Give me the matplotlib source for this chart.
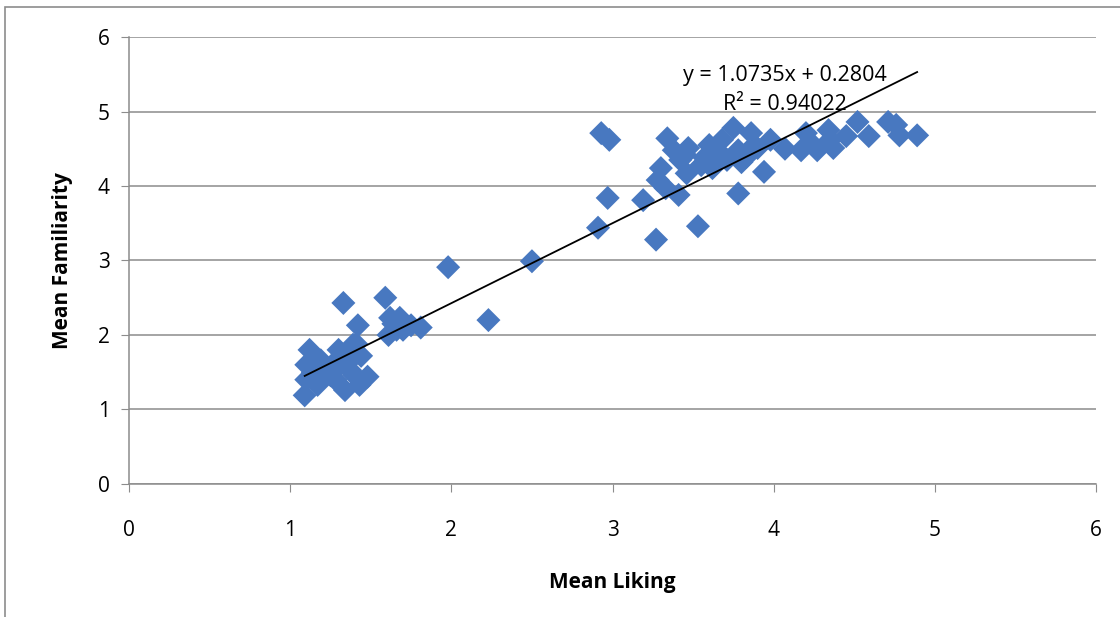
import matplotlib.pyplot as plt
from matplotlib.patches import Rectangle

plt.rcParams['font.family'] = ['Open Sans', 'DejaVu Sans']

# mean liking / mean familiarity per item
liking = [1.09, 1.10, 1.10, 1.12, 1.14, 1.17, 1.19, 1.22, 1.25, 1.28,
          1.31, 1.33, 1.34, 1.30, 1.36, 1.39, 1.40, 1.37, 1.43, 1.42,
          1.48, 1.34, 1.39, 1.44, 1.41, 1.20, 1.15, 1.27,
          1.59, 1.62, 1.61, 1.66, 1.68, 1.70, 1.64, 1.75, 1.81, 1.98,
          2.23, 2.50,
          2.91, 2.93, 2.98, 2.97, 3.19, 3.27, 3.28, 3.30, 3.33, 3.34,
          3.38, 3.41, 3.42, 3.45, 3.47, 3.46, 3.53, 3.55, 3.57, 3.60,
          3.62, 3.65, 3.68, 3.71, 3.75, 3.78, 3.80, 3.78, 3.83, 3.86,
          3.86, 3.90, 3.94, 3.98, 4.07, 4.17, 4.20, 4.25, 4.27, 4.34,
          4.35, 4.37, 4.45, 4.52, 4.59, 4.71, 4.76, 4.78, 4.89]
familiarity = [1.19, 1.40, 1.60, 1.80, 1.50, 1.33, 1.66, 1.53, 1.46, 1.40,
               1.60, 2.43, 1.26, 1.80, 1.73, 1.87, 1.46, 1.53, 1.33, 2.13,
               1.44, 1.66, 1.70, 1.72, 1.88, 1.55, 1.70, 1.62,
               2.50, 2.23, 2.00, 2.07, 2.23, 2.07, 2.15, 2.13, 2.10, 2.91,
               2.20, 2.99,
               3.44, 4.71, 4.62, 3.84, 3.81, 3.28, 4.08, 4.24, 3.97, 4.64,
               4.48, 3.88, 4.35, 4.42, 4.51, 4.17, 3.46, 4.28, 4.38, 4.55,
               4.24, 4.48, 4.62, 4.35, 4.78, 4.48, 4.32, 3.90, 4.39, 4.51,
               4.71, 4.51, 4.19, 4.62, 4.50, 4.48, 4.71, 4.54, 4.48, 4.75,
               4.62, 4.51, 4.67, 4.86, 4.67, 4.86, 4.82, 4.68, 4.68]

slope = 1.0735
intercept = 0.2804
r2 = 0.94022

fig = plt.figure(figsize=(11.2, 6.17), dpi=100)
ax = fig.add_axes([0.1152, 0.2156, 0.8634, 0.7244])

# outer chart frame
fig.patches.append(Rectangle((5 / 1120, -0.1), 1.2, 1 - 7 / 617 + 0.1,
                             transform=fig.transFigure, fill=False,
                             edgecolor='#8c8c8c', lw=1.2))

ax.scatter(liking, familiarity, marker='D', s=150, color='#4878c0',
           edgecolors='none', zorder=3)

x0, x1 = min(liking), max(liking)
ax.plot([x0, x1], [slope * x0 + intercept, slope * x1 + intercept],
        color='black', lw=1.3, zorder=4)

ax.text(4.07, 5.49, 'y = %.4fx + %.4f' % (slope, intercept),
        ha='center', va='center', fontsize=15.5, zorder=5)
ax.text(4.07, 5.10, 'R² = %.5f' % r2,
        ha='center', va='center', fontsize=15.5, zorder=5)

ax.set_xlim(0, 6)
ax.set_ylim(0, 6)
ax.set_xticks(range(7))
ax.set_yticks(range(7))
ax.grid(axis='y', color='#8c8c8c', lw=1.1)
ax.set_axisbelow(True)
for s in ['top', 'right']:
    ax.spines[s].set_visible(False)
for s in ['left', 'bottom']:
    ax.spines[s].set_color('#8c8c8c')
    ax.spines[s].set_linewidth(1.1)
ax.tick_params(direction='out', length=6, color='#8c8c8c', labelsize=15)
ax.tick_params(axis='x', pad=20)
ax.tick_params(axis='y', pad=8)

ax.set_xlabel('Mean Liking', fontsize=15, fontweight='bold', labelpad=22)
ax.set_ylabel('Mean Familiarity', fontsize=15, fontweight='bold', labelpad=18)

fig.savefig('out.png', dpi=100)
